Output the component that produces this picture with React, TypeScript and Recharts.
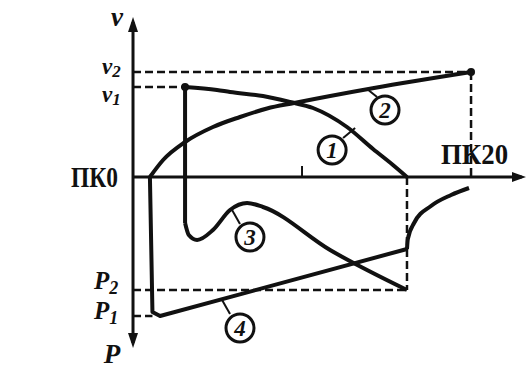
import {
  LineChart,
  Line,
  XAxis,
  YAxis,
  ReferenceLine,
  ReferenceDot,
} from 'recharts';

// x: picket (ПК) along the section, y: speed above the axis, pull/brake force below
const stationLabels = ['ПК0', 'ПК20'];
const stationEnd = 20;
const stationMid = 10;
const v1 = 9.0;
const v2 = 10.5;
const p1 = -13.9;
const p2 = -11.3;
const brakeStart = 3.08;
const brakeEnd = 16.21;

// curve 1: speed while braking, from v1 down to 0
const curve1 = [
  { x: 3.08, y: 9.0 },
  { x: 4.97, y: 8.7 },
  { x: 5.74, y: 8.5 },
  { x: 7.69, y: 8.1 },
  { x: 9.29, y: 7.5 },
  { x: 10.65, y: 6.9 },
  { x: 12.66, y: 5.0 },
  { x: 14.2, y: 2.8 },
  { x: 15.38, y: 1.2 },
  { x: 16.21, y: 0 },
];

// curve 2: speed while accelerating up to v2
const curve2 = [
  { x: 1.0, y: 0 },
  { x: 1.78, y: 1.7 },
  { x: 3.08, y: 3.5 },
  { x: 4.73, y: 5.0 },
  { x: 6.33, y: 6.0 },
  { x: 7.93, y: 6.85 },
  { x: 9.53, y: 7.4 },
  { x: 14.26, y: 8.9 },
  { x: 20, y: 10.5 },
];

// curve 3: force, drop then swing
const curve3Drop = [
  { x: 3.08, y: 9.0 },
  { x: 3.08, y: -4.6 },
];
const curve3 = [
  { x: 3.08, y: -4.6 },
  { x: 3.3, y: -5.8 },
  { x: 3.79, y: -6.3 },
  { x: 4.73, y: -5.3 },
  { x: 5.74, y: -3.3 },
  { x: 6.75, y: -2.6 },
  { x: 7.69, y: -3.0 },
  { x: 11.66, y: -7.3 },
  { x: 16.21, y: -11.3 },
];

// curve 4: force, drop to P1, then linear, then recovery
const curve4Drop = [
  { x: 1.0, y: 0 },
  { x: 1.15, y: -13.5 },
  { x: 1.6, y: -13.9 },
  { x: 16.21, y: -7.2 },
];
const curve4Rise = [
  { x: 16.21, y: -7.2 },
  { x: 16.26, y: -6.2 },
  { x: 16.63, y: -4.6 },
  { x: 17.63, y: -2.9 },
  { x: 18.82, y: -1.8 },
  { x: 19.88, y: -1.1 },
];

const X_MIN = -7.87;
const X_MAX = 23.37;
const Y_MIN = -20.6;
const Y_MAX = 17.7;

const serif = '"Liberation Serif", "DejaVu Serif", serif';
const ink = '#111';

const label = (
  main: string,
  sub: string,
  dx: number,
  dy: number,
  anchor: 'start' | 'middle' | 'end',
  size = 25,
  subSize = 18,
  subShift = 5,
) =>
  (p: any) => (
    <text
      x={p.cx + dx}
      y={p.cy + dy}
      textAnchor={anchor}
      fontFamily={serif}
      fontStyle="italic"
      fontWeight="bold"
      fontSize={size}
      fill={ink}
    >
      {main}
      {sub && (
        <tspan fontSize={subSize} dy={subShift}>
          {sub}
        </tspan>
      )}
    </text>
  );

const station = (text: string, dx: number, dy: number, len: number) => (p: any) => (
  <text
    x={p.cx + dx}
    y={p.cy + dy}
    fontFamily={serif}
    fontWeight="bold"
    fontSize={29}
    textLength={len}
    lengthAdjust="spacingAndGlyphs"
    fill={ink}
  >
    {text}
  </text>
);

const circled = (n: string) => (p: any) => (
  <g>
    <circle cx={p.cx} cy={p.cy} r={14} fill="#fff" stroke={ink} strokeWidth={3} />
    <text
      x={p.cx}
      y={p.cy + 8}
      textAnchor="middle"
      fontFamily={serif}
      fontStyle="italic"
      fontWeight="bold"
      fontSize={23}
      fill={ink}
    >
      {n}
    </text>
  </g>
);

const arrow = (dir: 'right' | 'up' | 'down') => (p: any) => {
  const { cx, cy } = p;
  let pts = '';
  if (dir === 'right') pts = `${cx},${cy} ${cx - 14},${cy - 5} ${cx - 14},${cy + 5}`;
  if (dir === 'up') pts = `${cx},${cy} ${cx - 5},${cy + 15} ${cx + 5},${cy + 15}`;
  if (dir === 'down') pts = `${cx},${cy} ${cx - 5},${cy - 15} ${cx + 5},${cy - 15}`;
  return <polygon points={pts} fill={ink} />;
};

const dot = (p: any) => <circle cx={p.cx} cy={p.cy} r={4} fill={ink} />;

const curveProps = {
  dataKey: 'y',
  stroke: ink,
  strokeWidth: 4,
  dot: false,
  activeDot: false,
  isAnimationActive: false,
  strokeLinejoin: 'round' as const,
};

const dash = { stroke: ink, strokeWidth: 2.5, strokeDasharray: '8 4' };

function App() {
  return (
    <div style={{ position: 'absolute', left: 0, top: 0, background: '#fff' }}>
      <LineChart width={528} height={383} margin={{ top: 0, right: 0, bottom: 0, left: 0 }}>
        <XAxis type="number" dataKey="x" domain={[X_MIN, X_MAX]} hide allowDataOverflow />
        <YAxis type="number" dataKey="y" domain={[Y_MIN, Y_MAX]} hide allowDataOverflow />

        {/* dashed guides */}
        <ReferenceLine segment={[{ x: 0, y: v2 }, { x: stationEnd, y: v2 }]} {...dash} />
        <ReferenceLine segment={[{ x: stationEnd, y: v2 }, { x: stationEnd, y: 0 }]} {...dash} />
        <ReferenceLine segment={[{ x: 0, y: v1 }, { x: brakeStart, y: v1 }]} {...dash} />
        <ReferenceLine segment={[{ x: brakeEnd, y: 0 }, { x: brakeEnd, y: p2 }]} {...dash} />
        <ReferenceLine segment={[{ x: 0, y: p2 }, { x: brakeEnd, y: p2 }]} {...dash} />
        <ReferenceLine segment={[{ x: 0, y: p1 }, { x: 1.15, y: p1 }]} {...dash} />

        {/* axes */}
        <ReferenceLine segment={[{ x: 0, y: 0 }, { x: 23.0, y: 0 }]} stroke={ink} strokeWidth={3} />
        <ReferenceLine segment={[{ x: 0, y: 15.5 }, { x: 0, y: -16.6 }]} stroke={ink} strokeWidth={3} />
        <ReferenceLine segment={[{ x: stationMid, y: 0 }, { x: stationMid, y: 1.1 }]} stroke={ink} strokeWidth={2} />
        <ReferenceDot x={23.25} y={0} shape={arrow('right')} />
        <ReferenceDot x={0} y={16.0} shape={arrow('up')} />
        <ReferenceDot x={0} y={-17.1} shape={arrow('down')} />

        {/* curves */}
        <Line data={curve1} type="monotone" {...curveProps} />
        <Line data={curve2} type="monotone" {...curveProps} />
        <Line data={curve3Drop} type="linear" {...curveProps} />
        <Line data={curve3} type="monotone" {...curveProps} />
        <Line data={curve4Drop} type="linear" {...curveProps} />
        <Line data={curve4Rise} type="monotone" {...curveProps} />

        <ReferenceDot x={brakeStart} y={v1} shape={dot} />
        <ReferenceDot x={stationEnd} y={v2} shape={dot} />

        {/* leaders and circled numbers */}
        <ReferenceLine segment={[{ x: 12.43, y: 3.9 }, { x: 13.14, y: 4.9 }]} stroke={ink} strokeWidth={2} />
        <ReferenceLine segment={[{ x: 14.44, y: 8.0 }, { x: 13.85, y: 8.8 }]} stroke={ink} strokeWidth={2} />
        <ReferenceLine segment={[{ x: 6.33, y: -4.7 }, { x: 5.86, y: -3.3 }]} stroke={ink} strokeWidth={2} />
        <ReferenceLine segment={[{ x: 5.74, y: -13.7 }, { x: 5.27, y: -12.3 }]} stroke={ink} strokeWidth={2} />
        <ReferenceDot x={11.78} y={2.7} shape={circled('1')} />
        <ReferenceDot x={14.91} y={6.7} shape={circled('2')} />
        <ReferenceDot x={6.92} y={-6.0} shape={circled('3')} />
        <ReferenceDot x={6.33} y={-15.1} shape={circled('4')} />

        {/* axis labels */}
        <ReferenceDot x={0} y={16.0} shape={label('v', '', -16, 9, 'middle', 27)} />
        <ReferenceDot x={0} y={v2} shape={label('v', '2', -31, 2, 'start', 23, 17, 3)} />
        <ReferenceDot x={0} y={v1} shape={label('v', '1', -31, 15, 'start', 23, 17, 3)} />
        <ReferenceDot x={0} y={p2} shape={label('P', '2', -39, -1, 'start')} />
        <ReferenceDot x={0} y={p1} shape={label('P', '1', -39, 3, 'start')} />
        <ReferenceDot x={0} y={-17.1} shape={label('P', '', -21, 15, 'middle', 27)} />
        <ReferenceDot x={0} y={0} shape={station(stationLabels[0], -62, 10, 47)} />
        <ReferenceDot x={stationEnd} y={0} shape={station(stationLabels[1], -30, -13, 67)} />
      </LineChart>
    </div>
  );
}

export default App;
